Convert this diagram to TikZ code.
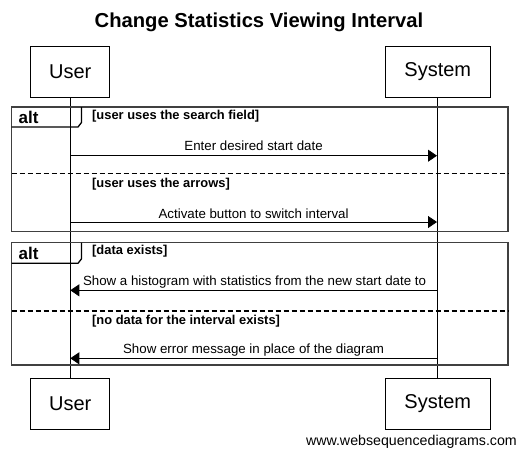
\documentclass[tikz,border=0pt]{standalone}
\usepackage{fontspec}
\setmainfont{Liberation Sans}
\usetikzlibrary{arrows.meta}
\begin{document}
\begin{tikzpicture}[x=1pt,y=-1pt,
  actor/.style={draw,line width=0.8pt,minimum width=79pt,minimum height=50.5pt,inner sep=0pt,font=\fontsize{20}{24}\selectfont,fill=white},
  life/.style={line width=0.8pt},
  msg/.style={line width=0.8pt,-{Triangle[length=9pt,width=12pt]}},
  msgtext/.style={font=\fontsize{13.3}{15}\selectfont,inner sep=0pt},
  guard/.style={font=\bfseries\fontsize{12.9}{15}\selectfont,inner sep=0pt,anchor=west},
  frame/.style={line width=1.8pt,draw=black!75},
  sep/.style={line width=1.3pt,dash pattern=on 5pt off 3pt},
  alttab/.style={font=\bfseries\fontsize{17}{20}\selectfont,inner sep=0pt,anchor=west}]
\useasboundingbox (0,0) rectangle (518,451);
\fill[white] (0,0) rectangle (518,451);
\node[font=\bfseries\fontsize{20.2}{24}\selectfont] (title) at (259,22) {Change Statistics Viewing Interval};
% lifelines
\draw[life] (70.3,97) -- (70.3,378);
\draw[life] (437,97) -- (437,378);
% actors
\node[actor] (ut) at (70.3,72) {User};
\node[actor,minimum width=105pt] (st) at (437.8,72) {System};
\node[actor] (ub) at (70.3,403.7) {User};
\node[actor,minimum width=105pt] (sb) at (437.8,403.7) {System};
% frame 1
\draw[frame] (11.5,107) rectangle (508,231.5);
\draw[line width=1.3pt] (11.5,127) -- (78,127) -- (81.5,122.5) -- (81.5,107);
\node[alttab] (alt1) at (18.5,117) {alt};
\node[guard] (g1) at (92,116) {[user uses the search field]};
\draw[sep] (11.5,173.7) -- (508,173.7);
\node[guard] (g2) at (92,184) {[user uses the arrows]};
% frame 2
\draw[frame] (11.5,242.5) rectangle (508,365);
\draw[line width=1.3pt] (11.5,263.3) -- (78,263.3) -- (81.5,258.8) -- (81.5,242.5);
\node[alttab] (alt2) at (18.5,253) {alt};
\node[guard] (g3) at (92,251.5) {[data exists]};
\draw[sep] (11.5,311) -- (508,311);
\node[guard] (g4) at (92,321) {[no data for the interval exists]};
% messages
\coordinate (m1u) at (70.3,155.7);
\coordinate (m1s) at (437,155.7);
\draw[msg] (m1u) -- (m1s);
\node[msgtext] (t1) at (253.6,146) {Enter desired start date};
\coordinate (m2u) at (70.3,222);
\coordinate (m2s) at (437,222);
\draw[msg] (m2u) -- (m2s);
\node[msgtext] (t2) at (253.6,213.5) {Activate button to switch interval};
\coordinate (m3u) at (70.3,290.3);
\coordinate (m3s) at (437,290.3);
\draw[msg] (m3s) -- (m3u);
\node[msgtext] (t3) at (254.5,282) {Show a histogram with statistics from the new start date to};
\coordinate (m4u) at (70.3,358.3);
\coordinate (m4s) at (437,358.3);
\draw[msg] (m4s) -- (m4u);
\node[msgtext] (t4) at (253.6,350) {Show error message in place of the diagram};
\node[font=\fontsize{14.2}{16}\selectfont,inner sep=0pt,anchor=east] (foot) at (517,442) {www.websequencediagrams.com};
\end{tikzpicture}
\end{document}
